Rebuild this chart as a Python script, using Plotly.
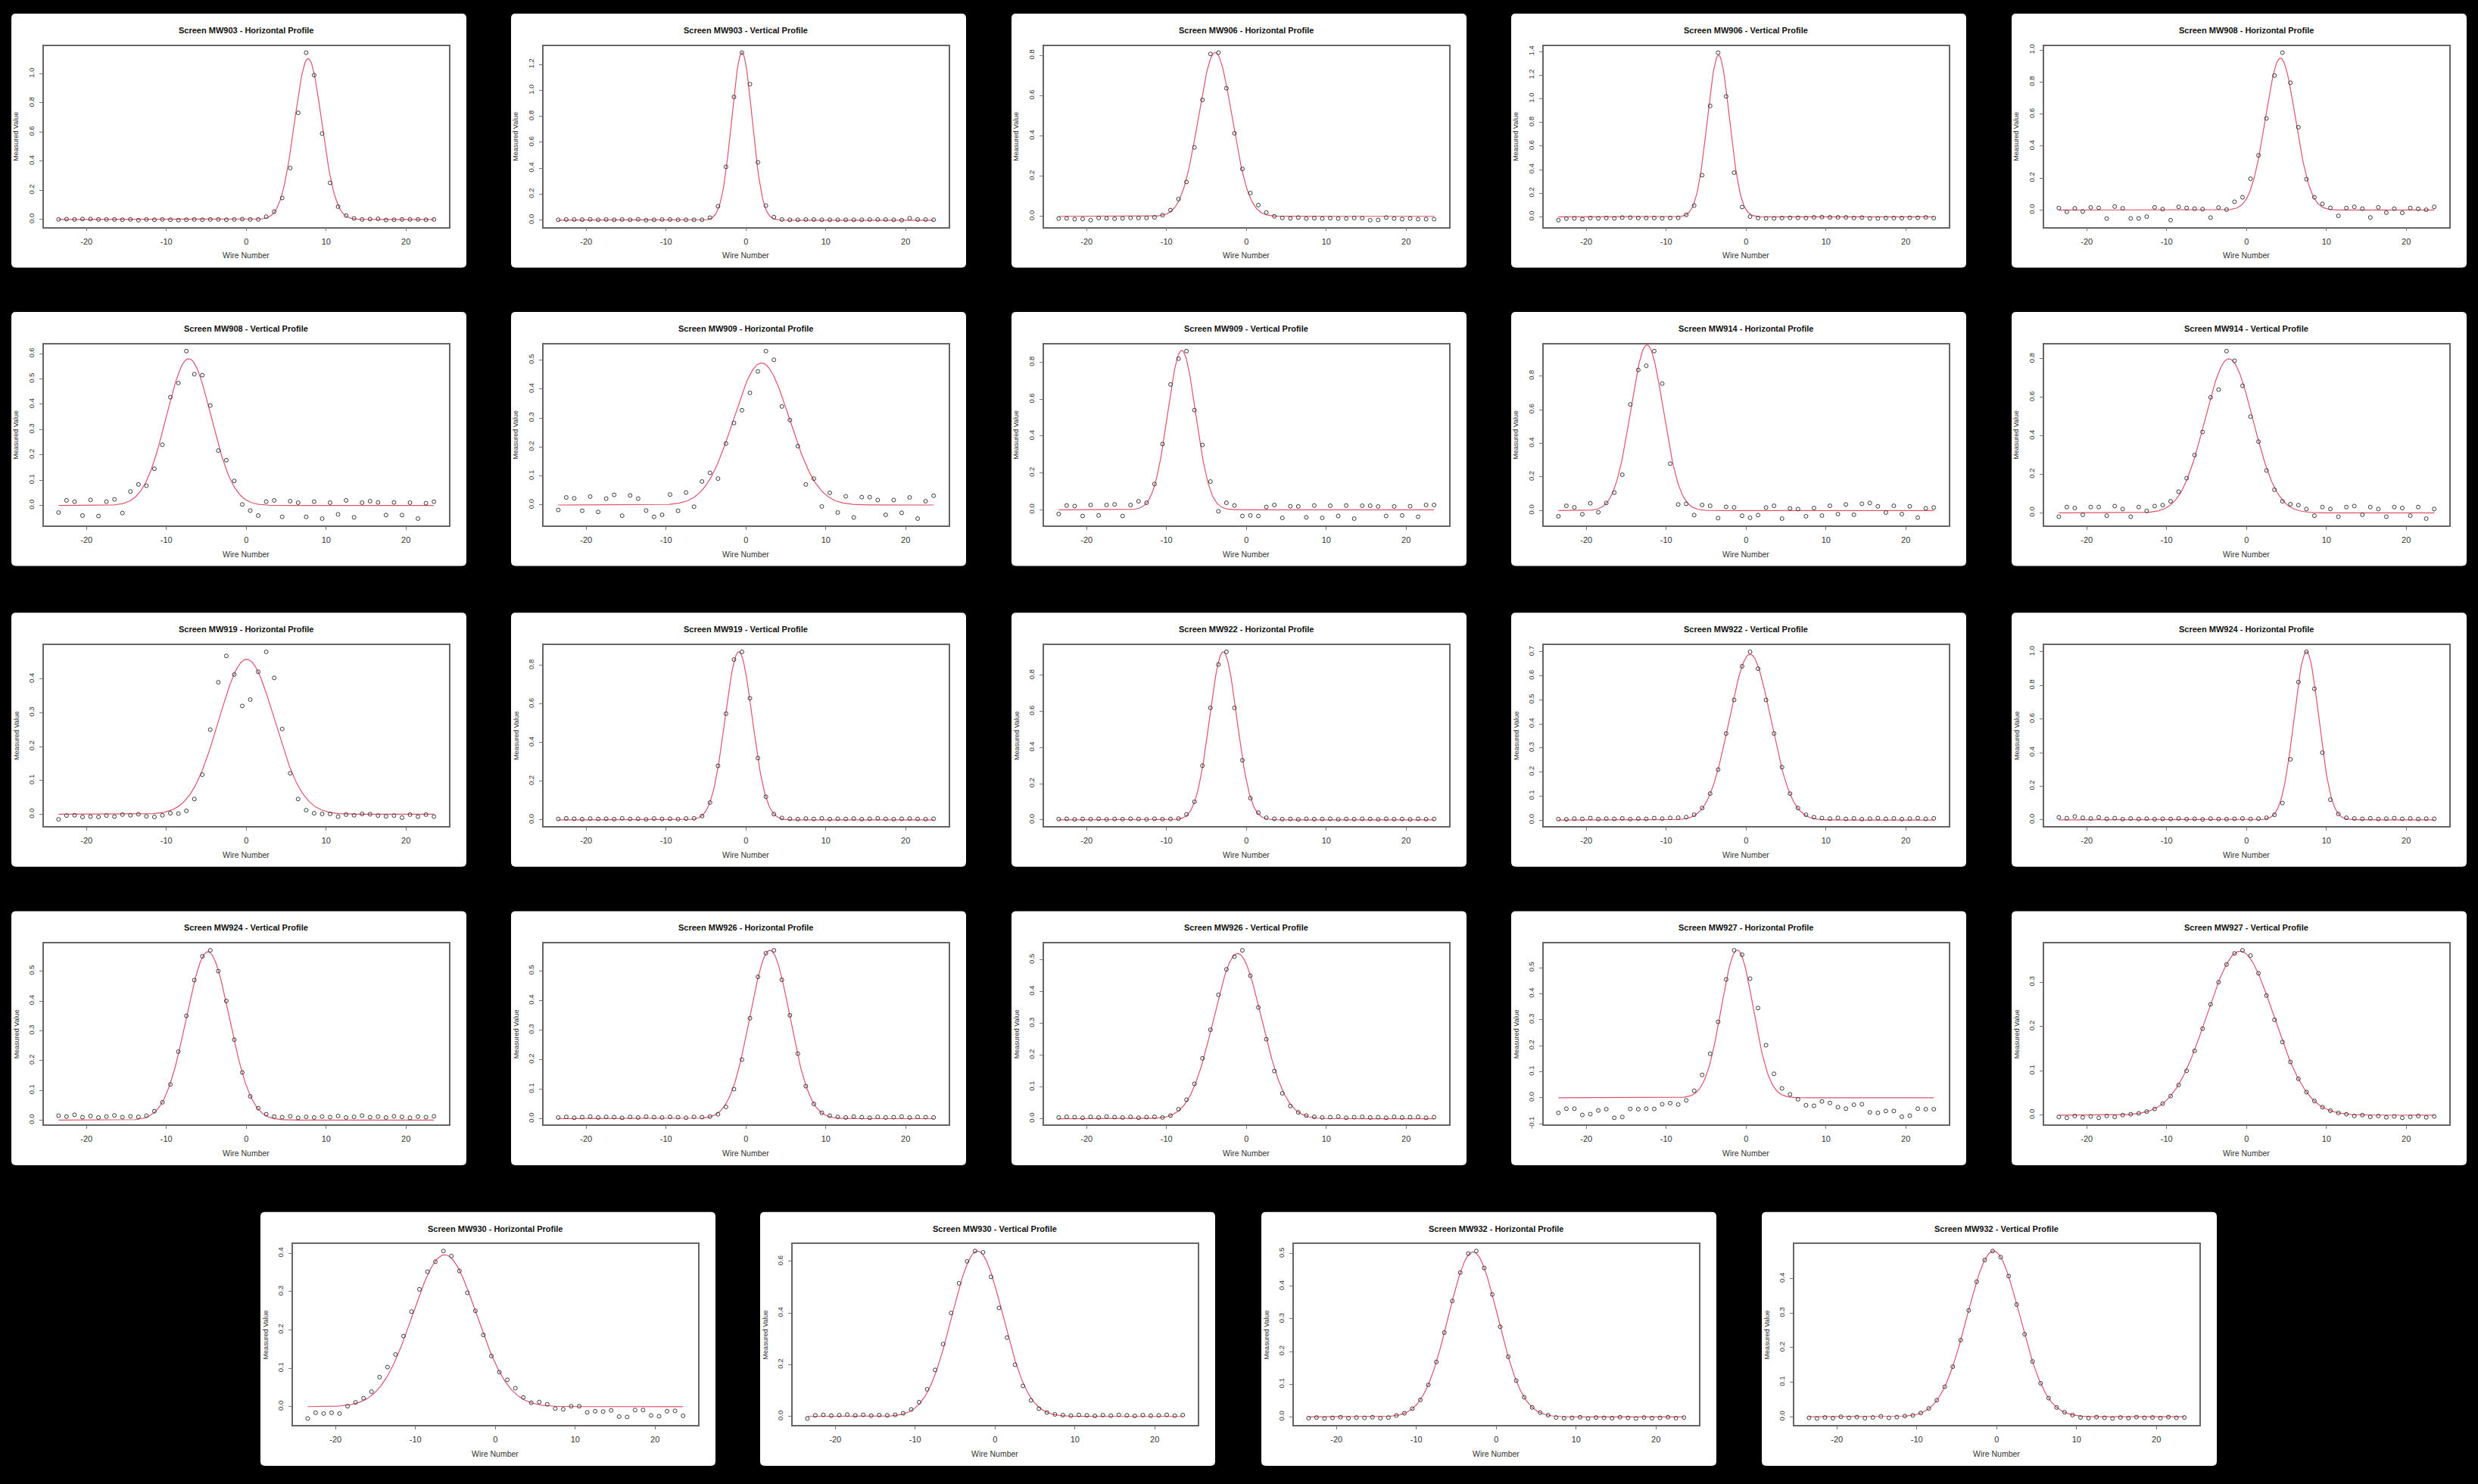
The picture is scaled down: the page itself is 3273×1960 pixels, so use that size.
import numpy as np
import plotly.graph_objects as go

W, H = 3273, 1960

WIRES = [-23.5, -22.5, -21.5, -20.5, -19.5, -18.5, -17.5, -16.5, -15.5, -14.5, -13.5, -12.5,
         -11.5, -10.5, -9.5, -8.5, -7.5, -6.5, -5.5, -4.5, -3.5, -2.5, -1.5, -0.5,
         0.5, 1.5, 2.5, 3.5, 4.5, 5.5, 6.5, 7.5, 8.5, 9.5, 10.5, 11.5,
         12.5, 13.5, 14.5, 15.5, 16.5, 17.5, 18.5, 19.5, 20.5, 21.5, 22.5, 23.5]

TITLES = [
    "Screen MW903 - Horizontal Profile", "Screen MW903 - Vertical Profile",
    "Screen MW906 - Horizontal Profile", "Screen MW906 - Vertical Profile",
    "Screen MW908 - Horizontal Profile", "Screen MW908 - Vertical Profile",
    "Screen MW909 - Horizontal Profile", "Screen MW909 - Vertical Profile",
    "Screen MW914 - Horizontal Profile", "Screen MW914 - Vertical Profile",
    "Screen MW919 - Horizontal Profile", "Screen MW919 - Vertical Profile",
    "Screen MW922 - Horizontal Profile", "Screen MW922 - Vertical Profile",
    "Screen MW924 - Horizontal Profile", "Screen MW924 - Vertical Profile",
    "Screen MW926 - Horizontal Profile", "Screen MW926 - Vertical Profile",
    "Screen MW927 - Horizontal Profile", "Screen MW927 - Vertical Profile",
    "Screen MW930 - Horizontal Profile", "Screen MW930 - Vertical Profile",
    "Screen MW932 - Horizontal Profile", "Screen MW932 - Vertical Profile",
]

MW903_H = [0.0, 0.002, 0.0, 0.003, 0.003, 0.0, 0.0, 0.0, -0.002, 0.0, -0.005, 0.0,
           -0.002, 0.0, -0.002, -0.005, -0.002, 0.0, -0.002, 0.0, 0.0, -0.002, 0.0, 0.002,
           0.0, 0.0, 0.019, 0.054, 0.147, 0.353, 0.732, 1.145, 0.991, 0.59, 0.251, 0.088,
           0.026, 0.007, 0.0, 0.002, 0.004, -0.004, -0.002, 0.0, 0.0, 0.0, -0.002, 0.0]
MW903_V = [0.003, 0.005, 0.005, 0.004, 0.006, 0.003, 0.005, 0.003, 0.005, 0.003, 0.006, 0.0,
           0.003, 0.005, 0.005, 0.003, 0.003, 0.003, 0.003, 0.019, 0.107, 0.411, 0.95, 1.291,
           1.048, 0.446, 0.112, 0.023, 0.005, 0.003, 0.003, 0.005, 0.005, 0.003, 0.003, 0.003,
           0.003, 0.003, 0.003, 0.005, 0.005, 0.005, 0.003, 0.0, 0.015, 0.005, 0.005, 0.003]
MW906_H = [-0.011, -0.01, -0.014, -0.013, -0.019, -0.008, -0.01, -0.012, -0.01, -0.008, -0.008, -0.008,
           -0.005, 0.006, 0.031, 0.086, 0.171, 0.343, 0.579, 0.808, 0.814, 0.637, 0.413, 0.236,
           0.116, 0.056, 0.019, 0.0, -0.008, -0.01, -0.006, -0.011, -0.009, -0.011, -0.009, -0.011,
           -0.011, -0.008, -0.009, -0.019, -0.018, -0.006, -0.011, -0.014, -0.011, -0.014, -0.014, -0.014]
MW906_V = [-0.028, -0.015, -0.013, -0.02, -0.01, -0.013, -0.01, -0.013, -0.006, -0.006, -0.01, -0.01,
           -0.01, -0.012, -0.01, -0.008, 0.017, 0.096, 0.353, 0.94, 1.391, 1.021, 0.374, 0.083,
           0.002, -0.01, -0.013, -0.013, -0.01, -0.008, -0.008, -0.01, -0.004, -0.002, -0.004, -0.004,
           -0.004, -0.01, -0.006, -0.013, -0.013, -0.01, -0.01, -0.01, -0.008, -0.008, -0.004, -0.01]
MW908_H = [0.013, -0.011, 0.011, -0.009, 0.017, 0.014, -0.053, 0.022, 0.011, -0.052, -0.052, -0.041,
           0.017, 0.006, -0.063, 0.02, 0.013, 0.009, 0.006, -0.047, 0.016, 0.003, 0.052, 0.08,
           0.196, 0.342, 0.573, 0.841, 0.984, 0.796, 0.518, 0.193, 0.08, 0.039, 0.014, -0.036,
           0.013, 0.02, 0.009, -0.046, 0.017, -0.016, 0.009, -0.017, 0.013, 0.008, 0.002, 0.02]
MW908_V = [-0.028, 0.02, 0.015, -0.04, 0.022, -0.042, 0.015, 0.024, -0.03, 0.055, 0.083, 0.078,
           0.145, 0.24, 0.428, 0.484, 0.61, 0.519, 0.515, 0.395, 0.217, 0.179, 0.097, 0.004,
           -0.02, -0.04, 0.015, 0.02, -0.045, 0.017, 0.011, -0.045, 0.015, -0.052, 0.011, -0.035,
           0.02, -0.047, 0.011, 0.017, 0.012, -0.038, 0.012, -0.038, 0.011, -0.052, 0.009, 0.015]
MW909_H = [-0.017, 0.026, 0.023, -0.02, 0.029, -0.024, 0.022, 0.035, -0.037, 0.033, 0.022, -0.019,
           -0.041, -0.034, 0.036, -0.02, 0.043, -0.006, 0.081, 0.111, 0.091, 0.212, 0.283, 0.327,
           0.387, 0.461, 0.531, 0.501, 0.34, 0.293, 0.203, 0.071, 0.091, -0.005, 0.042, -0.026,
           0.03, -0.043, 0.027, 0.027, 0.017, -0.034, 0.017, -0.027, 0.026, -0.047, 0.013, 0.032]
MW909_V = [-0.023, 0.023, 0.02, -0.034, 0.026, -0.031, 0.026, 0.029, -0.034, 0.026, 0.046, 0.038,
           0.14, 0.357, 0.68, 0.82, 0.861, 0.541, 0.352, 0.153, -0.008, 0.038, 0.023, -0.034,
           -0.031, -0.034, 0.015, 0.026, -0.044, 0.019, 0.018, -0.041, 0.023, -0.044, 0.022, -0.034,
           0.023, -0.048, 0.022, 0.022, 0.018, -0.034, 0.018, -0.031, 0.019, -0.038, 0.026, 0.026]
MW914_H = [-0.034, 0.028, 0.019, -0.022, 0.043, -0.01, 0.045, 0.107, 0.213, 0.631, 0.836, 0.861,
           0.948, 0.755, 0.279, 0.036, 0.04, -0.027, 0.033, 0.028, -0.045, 0.022, 0.019, -0.031,
           -0.043, -0.027, 0.018, 0.028, -0.048, 0.013, 0.009, -0.034, 0.015, -0.03, 0.028, -0.021,
           0.036, -0.025, 0.04, 0.045, 0.025, -0.012, 0.028, -0.021, 0.025, -0.042, 0.013, 0.018]
MW914_V = [-0.02, 0.03, 0.025, -0.01, 0.03, 0.03, -0.015, 0.035, 0.02, -0.02, 0.03, 0.01,
           0.035, 0.04, 0.06, 0.11, 0.18, 0.3, 0.42, 0.6, 0.64, 0.84, 0.79, 0.66,
           0.5, 0.37, 0.22, 0.12, 0.06, 0.045, 0.04, 0.02, -0.015, 0.03, 0.02, -0.02,
           0.03, 0.035, -0.01, 0.03, 0.02, -0.02, 0.03, 0.025, -0.015, 0.03, -0.03, 0.02]
MW919_H = [-0.015, -0.004, -0.003, -0.008, -0.007, -0.008, -0.004, -0.007, -0.001, -0.003, 0.0, -0.006,
           -0.008, -0.003, 0.003, 0.002, 0.01, 0.045, 0.117, 0.25, 0.39, 0.468, 0.413, 0.32,
           0.339, 0.421, 0.48, 0.403, 0.252, 0.121, 0.045, 0.012, 0.003, 0.001, 0.001, -0.007,
           -0.001, -0.003, 0.001, 0.0, -0.004, -0.006, -0.004, -0.01, -0.001, -0.007, -0.001, -0.007]
MW919_V = [0.005, 0.008, 0.006, 0.004, 0.007, 0.005, 0.006, 0.004, 0.008, 0.005, 0.006, 0.003,
           0.007, 0.005, 0.006, 0.004, 0.007, 0.008, 0.02, 0.09, 0.28, 0.55, 0.83, 0.87,
           0.63, 0.32, 0.12, 0.03, 0.01, 0.006, 0.004, 0.007, 0.005, 0.008, 0.004, 0.006,
           0.005, 0.007, 0.004, 0.006, 0.008, 0.005, 0.004, 0.006, 0.007, 0.005, 0.004, 0.006]
MW922_H = [0.004, 0.006, 0.003, 0.005, 0.004, 0.006, 0.003, 0.005, 0.004, 0.006, 0.005, 0.003,
           0.006, 0.004, 0.005, 0.007, 0.03, 0.1, 0.3, 0.62, 0.86, 0.93, 0.62, 0.33,
           0.12, 0.04, 0.012, 0.006, 0.004, 0.005, 0.003, 0.006, 0.004, 0.005, 0.006, 0.003,
           0.005, 0.004, 0.006, 0.005, 0.003, 0.006, 0.004, 0.005, 0.003, 0.006, 0.004, 0.005]
MW922_V = [0.004, 0.003, 0.006, 0.005, 0.008, 0.004, 0.006, 0.005, 0.007, 0.004, 0.006, 0.005,
           0.008, 0.006, 0.009, 0.01, 0.012, 0.022, 0.05, 0.11, 0.21, 0.36, 0.5, 0.64,
           0.7, 0.63, 0.5, 0.36, 0.22, 0.11, 0.05, 0.022, 0.012, 0.008, 0.006, 0.009,
           0.005, 0.007, 0.004, 0.006, 0.008, 0.005, 0.007, 0.004, 0.006, 0.008, 0.005, 0.007]
MW924_H = [0.015, 0.01, 0.02, 0.012, 0.008, 0.015, 0.006, 0.01, 0.004, 0.008, 0.005, 0.007,
           0.004, 0.006, 0.005, 0.008, 0.004, 0.006, 0.003, 0.007, 0.005, 0.004, 0.006, 0.008,
           0.005, 0.007, 0.012, 0.03, 0.1, 0.36, 0.82, 1.0, 0.78, 0.4, 0.12, 0.035,
           0.012, 0.008, 0.006, 0.009, 0.005, 0.007, 0.01, 0.006, 0.008, 0.005, 0.007, 0.006]
MW924_V = [0.015, 0.012, 0.018, 0.01, 0.014, 0.009, 0.012, 0.016, 0.01, 0.013, 0.011, 0.015,
           0.03, 0.06, 0.12, 0.23, 0.35, 0.47, 0.55, 0.57, 0.5, 0.4, 0.27, 0.16,
           0.08, 0.04, 0.02, 0.012, 0.01, 0.013, 0.008, 0.011, 0.009, 0.012, 0.01, 0.014,
           0.009, 0.011, 0.015, 0.01, 0.012, 0.009, 0.013, 0.011, 0.008, 0.012, 0.01, 0.013]
MW926_H = [0.004, 0.006, 0.003, 0.005, 0.007, 0.004, 0.006, 0.005, 0.003, 0.006, 0.004, 0.007,
           0.005, 0.004, 0.006, 0.005, 0.003, 0.006, 0.005, 0.007, 0.015, 0.04, 0.1, 0.2,
           0.34, 0.48, 0.56, 0.57, 0.47, 0.35, 0.22, 0.11, 0.05, 0.02, 0.01, 0.006,
           0.004, 0.007, 0.005, 0.003, 0.006, 0.004, 0.005, 0.007, 0.004, 0.006, 0.005, 0.004]
MW926_V = [0.004, 0.006, 0.005, 0.003, 0.006, 0.004, 0.007, 0.005, 0.004, 0.006, 0.003, 0.005,
           0.006, 0.004, 0.01, 0.03, 0.06, 0.11, 0.19, 0.28, 0.39, 0.47, 0.51, 0.53,
           0.45, 0.35, 0.25, 0.15, 0.08, 0.04, 0.02, 0.01, 0.006, 0.004, 0.005, 0.007,
           0.003, 0.005, 0.006, 0.004, 0.005, 0.003, 0.006, 0.004, 0.005, 0.006, 0.003, 0.005]
MW927_H = [-0.058, -0.042, -0.042, -0.066, -0.063, -0.049, -0.044, -0.077, -0.074, -0.043, -0.044, -0.042,
           -0.043, -0.025, -0.021, -0.026, -0.01, 0.027, 0.088, 0.169, 0.292, 0.455, 0.567, 0.55,
           0.458, 0.345, 0.202, 0.092, 0.036, 0.013, -0.006, -0.029, -0.031, -0.014, -0.02, -0.036,
           -0.042, -0.027, -0.025, -0.056, -0.058, -0.051, -0.051, -0.073, -0.069, -0.042, -0.044, -0.044]
MW927_V = [-0.004, -0.006, -0.002, -0.005, -0.003, -0.006, -0.002, -0.004, 0.0, 0.002, 0.004, 0.008,
           0.014, 0.026, 0.043, 0.068, 0.1, 0.145, 0.195, 0.25, 0.3, 0.34, 0.365, 0.372,
           0.36, 0.32, 0.27, 0.215, 0.165, 0.12, 0.082, 0.052, 0.032, 0.018, 0.01, 0.005,
           0.002, -0.002, 0.0, -0.004, -0.002, -0.005, -0.003, -0.006, -0.004, -0.002, -0.005, -0.003]
MW930_H = [-0.031, -0.016, -0.018, -0.016, -0.018, 0.001, 0.011, 0.022, 0.039, 0.077, 0.103, 0.136,
           0.184, 0.248, 0.306, 0.352, 0.378, 0.406, 0.393, 0.354, 0.297, 0.25, 0.187, 0.132,
           0.09, 0.07, 0.048, 0.024, 0.01, 0.012, 0.006, -0.005, -0.007, 0.001, 0.001, -0.015,
           -0.012, -0.013, -0.01, -0.026, -0.027, -0.009, -0.009, -0.023, -0.025, -0.012, -0.011, -0.024]
MW930_V = [-0.008, 0.004, 0.006, 0.003, 0.005, 0.007, 0.004, 0.006, 0.003, 0.005, 0.004, 0.006,
           0.012, 0.027, 0.055, 0.105, 0.18, 0.28, 0.4, 0.515, 0.6, 0.64, 0.635, 0.54,
           0.42, 0.305, 0.2, 0.118, 0.062, 0.03, 0.015, 0.008, 0.005, 0.003, 0.006, 0.004,
           0.002, 0.005, 0.003, 0.006, 0.004, 0.002, 0.005, 0.003, 0.004, 0.006, 0.003, 0.005]
MW932_H = [-0.004, -0.002, -0.005, -0.003, -0.001, -0.004, -0.002, -0.003, -0.001, -0.004, -0.002, 0.004,
           0.011, 0.025, 0.052, 0.098, 0.168, 0.258, 0.355, 0.442, 0.5, 0.508, 0.456, 0.375,
           0.276, 0.184, 0.111, 0.06, 0.029, 0.013, 0.005, -0.002, -0.004, -0.003, -0.001, -0.005,
           -0.002, -0.003, -0.004, -0.001, -0.003, -0.005, -0.002, -0.004, -0.003, -0.001, -0.004, -0.002]
MW932_V = [-0.003, -0.005, -0.002, -0.004, 0.0, -0.003, -0.001, -0.004, -0.002, 0.001, -0.003, -0.001,
           0.002, 0.004, 0.011, 0.024, 0.048, 0.087, 0.145, 0.222, 0.308, 0.391, 0.454, 0.48,
           0.462, 0.407, 0.325, 0.239, 0.16, 0.097, 0.054, 0.027, 0.013, 0.005, -0.002, -0.004,
           -0.001, -0.003, -0.005, -0.002, -0.004, -0.001, -0.003, -0.002, -0.004, -0.001, -0.003, -0.002]

SERIES = [MW903_H, MW903_V, MW906_H, MW906_V, MW908_H, MW908_V, MW909_H, MW909_V,
          MW914_H, MW914_V, MW919_H, MW919_V, MW922_H, MW922_V, MW924_H, MW924_V,
          MW926_H, MW926_V, MW927_H, MW927_V, MW930_H, MW930_V, MW932_H, MW932_V]

# Gaussian fit parameters
FIT_AMP = [1.105, 1.29, 0.815, 1.37, 0.95, 0.58, 0.49, 0.865, 0.985, 0.80, 0.458, 0.87,
           0.93, 0.69, 1.0, 0.565, 0.57, 0.52, 0.568, 0.37, 0.396, 0.64, 0.505, 0.48]
FIT_MU = [7.75, -0.5, -3.9, -3.45, 4.25, -7.2, 1.95, -8.1, -12.4, -2.2, 0.05, -0.9,
          -2.9, 0.5, 7.5, -4.8, 3.0, -1.1, -1.1, -0.8, -6.35, -2.2, -2.9, -0.4]
FIT_SIG = [1.7, 1.28, 2.1, 1.38, 1.87, 2.8, 3.5, 1.75, 2.04, 3.0, 3.5, 1.7,
           1.7, 2.6, 1.55, 2.7, 2.5, 3.0, 2.0, 4.2, 4.0, 3.2, 3.1, 3.3]

Y_TICKS = [
    [0.0, 0.2, 0.4, 0.6, 0.8, 1.0], [0.0, 0.2, 0.4, 0.6, 0.8, 1.0, 1.2],
    [0.0, 0.2, 0.4, 0.6, 0.8], [0.0, 0.2, 0.4, 0.6, 0.8, 1.0, 1.2, 1.4],
    [0.0, 0.2, 0.4, 0.6, 0.8, 1.0], [0.0, 0.1, 0.2, 0.3, 0.4, 0.5, 0.6],
    [0.0, 0.1, 0.2, 0.3, 0.4, 0.5], [0.0, 0.2, 0.4, 0.6, 0.8],
    [0.0, 0.2, 0.4, 0.6, 0.8], [0.0, 0.2, 0.4, 0.6, 0.8],
    [0.0, 0.1, 0.2, 0.3, 0.4], [0.0, 0.2, 0.4, 0.6, 0.8],
    [0.0, 0.2, 0.4, 0.6, 0.8], [0.0, 0.1, 0.2, 0.3, 0.4, 0.5, 0.6, 0.7],
    [0.0, 0.2, 0.4, 0.6, 0.8, 1.0], [0.0, 0.1, 0.2, 0.3, 0.4, 0.5],
    [0.0, 0.1, 0.2, 0.3, 0.4, 0.5], [0.0, 0.1, 0.2, 0.3, 0.4, 0.5],
    [-0.1, 0.0, 0.1, 0.2, 0.3, 0.4, 0.5], [0.0, 0.1, 0.2, 0.3],
    [0.0, 0.1, 0.2, 0.3, 0.4], [0.0, 0.2, 0.4, 0.6],
    [0.0, 0.1, 0.2, 0.3, 0.4, 0.5], [0.0, 0.1, 0.2, 0.3, 0.4, 0.5],
]
X_TICKS = [-20, -10, 0, 10, 20]
X_LABEL = "Wire Number"
Y_LABEL = "Measured Value"

for s in SERIES:
    assert len(s) == len(WIRES)

# ---- layout geometry (pixels) ----
COL_LEFT = [15, 675, 1336, 1996, 2657]
ROW_TOP = [15, 411, 810, 1206]
LAST_ROW_LEFT = [344, 1004, 1666, 2327]
LAST_ROW_TOP = 1605
PW, PH = 601, 337
FR_L, FR_R, FR_T, FR_B = 42.5, 578, 43, 283

panels = []
for r in range(4):
    for c in range(5):
        panels.append((COL_LEFT[c], ROW_TOP[r]))
for c in range(4):
    panels.append((LAST_ROW_LEFT[c], LAST_ROW_TOP))

FIT_COLOR = "#DF536B"
POINT_COLOR = "#3a3a3a"
NARROW = "Liberation Sans Narrow, Arial Narrow, Liberation Sans, Arial, sans-serif"
REG = "Liberation Sans, Arial, sans-serif"

fig = go.Figure()
layout = dict(
    width=W, height=H, margin=dict(l=0, r=0, t=0, b=0),
    paper_bgcolor="black", plot_bgcolor="white", showlegend=False,
)
shapes, annotations = [], []

def px(x):
    return x / W

def py(y):
    return 1 - y / H

xfit = np.linspace(-23.5, 23.5, 400)

for i, (left, top) in enumerate(panels):
    k = i + 1
    xa = "x" if k == 1 else f"x{k}"
    ya = "y" if k == 1 else f"y{k}"
    xkey = "xaxis" if k == 1 else f"xaxis{k}"
    ykey = "yaxis" if k == 1 else f"yaxis{k}"
    ys = SERIES[i]
    ymin, ymax = min(ys), max(ys)
    pad = 0.04 * (ymax - ymin)
    xr = 0.04 * (WIRES[-1] - WIRES[0])

    # white rounded card
    x0, x1 = px(left), px(left + PW)
    y0, y1 = py(top + PH), py(top)
    rx, ry = 6 / W, 6 / H
    path = (f"M {x0+rx},{y1} L {x1-rx},{y1} Q {x1},{y1} {x1},{y1-ry} L {x1},{y0+ry} "
            f"Q {x1},{y0} {x1-rx},{y0} L {x0+rx},{y0} Q {x0},{y0} {x0},{y0+ry} "
            f"L {x0},{y1-ry} Q {x0},{y1} {x0+rx},{y1} Z")
    shapes.append(dict(type="path", path=path, xref="paper", yref="paper",
                       fillcolor="white", line=dict(width=0), layer="below"))

    layout[xkey] = dict(
        domain=[px(left + FR_L), px(left + FR_R)], anchor=ya,
        range=[WIRES[0] - xr, WIRES[-1] + xr],
        tickvals=X_TICKS, ticktext=[str(v) for v in X_TICKS],
        showgrid=False, zeroline=False, showline=True, mirror=True,
        linecolor="#666666", linewidth=1.5, ticks="outside", ticklen=4,
        tickcolor="#777777", tickwidth=1, ticklabelstandoff=4,
        tickfont=dict(family=NARROW, size=11, color="#333333"),
    )
    yt = Y_TICKS[i]
    layout[ykey] = dict(
        domain=[py(top + FR_B), py(top + FR_T)], anchor=xa,
        range=[ymin - pad, ymax + pad],
        tickvals=yt, ticktext=[f"{v:.1f}" for v in yt], tickangle=-90,
        showgrid=False, zeroline=False, showline=True, mirror=True,
        linecolor="#666666", linewidth=1.5, ticks="outside", ticklen=4,
        tickcolor="#777777", tickwidth=1, ticklabelstandoff=3,
        tickfont=dict(family=REG, size=9.5, color="#333333"),
    )

    amp, mu, sig = FIT_AMP[i], FIT_MU[i], FIT_SIG[i]
    yfit = amp * np.exp(-((xfit - mu) ** 2) / (2 * sig ** 2))
    fig.add_trace(go.Scatter(x=xfit, y=yfit, xaxis=xa, yaxis=ya, mode="lines",
                             line=dict(color=FIT_COLOR, width=1.2), hoverinfo="skip"))
    fig.add_trace(go.Scatter(x=WIRES, y=ys, xaxis=xa, yaxis=ya, mode="markers",
                             marker=dict(symbol="circle-open", size=5, color=POINT_COLOR,
                                         line=dict(color=POINT_COLOR, width=1)),
                             cliponaxis=True))

    cx = px(left + (FR_L + FR_R) / 2)
    annotations.append(dict(text=f"<b>{TITLES[i]}</b>", x=cx, y=py(top + 22), xref="paper",
                            yref="paper", showarrow=False, xanchor="center", yanchor="middle",
                            font=dict(family=NARROW, size=11, color="#111111")))
    annotations.append(dict(text=X_LABEL, x=cx, y=py(top + 321), xref="paper", yref="paper",
                            showarrow=False, xanchor="center", yanchor="middle",
                            font=dict(family=NARROW, size=10.5, color="#333333")))
    annotations.append(dict(text=Y_LABEL, x=px(left + 6.5), y=py(top + (FR_T + FR_B) / 2),
                            xref="paper", yref="paper", showarrow=False, textangle=-90,
                            xanchor="center", yanchor="middle",
                            font=dict(family=REG, size=9, color="#333333")))

layout["shapes"] = shapes
layout["annotations"] = annotations
fig.update_layout(**layout)
fig.write_html("out.html")
